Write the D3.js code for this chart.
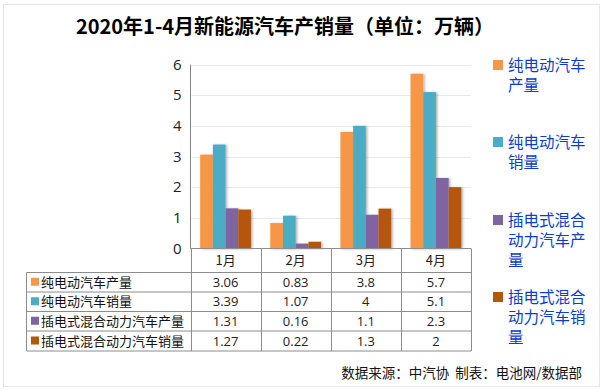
<!DOCTYPE html>
<html><head><meta charset="utf-8">
<script src="https://cdn.jsdelivr.net/npm/d3@7"></script>
<style>
html,body{margin:0;padding:0;background:#fff;}
svg{display:block;font-family:"Noto Sans CJK SC","Noto Sans",sans-serif;}
</style></head>
<body>
<svg id="c" width="605" height="390"></svg>
<script>
const categories = ["1月","2月","3月","4月"];
const seriesNames = ["纯电动汽车产量","纯电动汽车销量","插电式混合动力汽车产量","插电式混合动力汽车销量"];
const bevProd = [3.06,0.83,3.8,5.7];
const bevSales = [3.39,1.07,4,5.1];
const phevProd = [1.31,0.16,1.1,2.3];
const phevSales = [1.27,0.22,1.3,2];
const yTicks = [0,1,2,3,4,5,6];
const colors = ["#F79646","#4BACC6","#8064A2","#B65708"];
const legendLines = [["纯电动汽车","产量"],["纯电动汽车","销量"],["插电式混合","动力汽车产","量"],["插电式混合","动力汽车销","量"]];
const series = [bevProd,bevSales,phevProd,phevSales];

const svg = d3.select("#c");
// frame
svg.append("rect").attr("x",3.5).attr("y",4.5).attr("width",596).attr("height",382)
  .attr("fill","#fff").attr("stroke","#e6e6e6");

const defs = svg.append("defs");
const f = defs.append("filter").attr("id","sh").attr("x","-20%").attr("y","-10%").attr("width","160%").attr("height","130%");
f.append("feDropShadow").attr("dx",1.5).attr("dy",0.5).attr("stdDeviation",0.8).attr("flood-color","#000").attr("flood-opacity",0.3);

// title
svg.append("text").attr("x",285).attr("y",34).attr("text-anchor","middle")
  .attr("font-size",20).attr("font-weight","bold").attr("fill","#000")
  .text("2020年1-4月新能源汽车产销量（单位：万辆）");

const x0 = 190.5, x1 = 471;
const y = d3.scaleLinear().domain([0,6]).range([248.5,64.5]);
const x = d3.scaleBand().domain(categories).range([x0,x1]).padding(0);
const xs = d3.scaleBand().domain(d3.range(4)).range([0,x.bandwidth()]).paddingOuter(0.76).paddingInner(0);

// gridlines
svg.append("g").selectAll("line").data(yTicks.filter(d=>d>0)).join("line")
  .attr("x1",x0).attr("x2",x1).attr("y1",d=>Math.round(y(d))+0.5).attr("y2",d=>Math.round(y(d))+0.5)
  .attr("stroke","#e9e9e9");

// y axis
const ya = svg.append("g").attr("transform",`translate(${x0},0)`)
  .call(d3.axisLeft(y).tickValues(yTicks).tickSize(0).tickPadding(9).tickFormat(d3.format("d")));
ya.select(".domain").attr("stroke","#888").attr("d",`M0,${y(6)}V${y(0)}`);
ya.selectAll("text").attr("font-size",15).attr("fill","#222").attr("font-family","'Open Sans','Noto Sans',sans-serif");

// bars
const g = svg.append("g");
series.forEach((vals,si)=>{
  g.append("g").selectAll("rect").data(vals).join("rect")
    .attr("x",(d,i)=>x(categories[i])+xs(si))
    .attr("width",xs.bandwidth())
    .attr("y",d=>y(d)).attr("height",d=>y(0)-y(d))
    .attr("fill",colors[si]).attr("filter","url(#sh)");
});

// table
const tl = 26.5, rowTop = [248.5,272.5,292,311.5,331,351];
const tg = svg.append("g").attr("stroke","#8c8c8c").attr("fill","none");
tg.append("line").attr("x1",x0).attr("x2",x1).attr("y1",rowTop[0]).attr("y2",rowTop[0]);
rowTop.slice(1).forEach(yy=>{
  tg.append("line").attr("x1",tl).attr("x2",x1).attr("y1",yy).attr("y2",yy);
});
tg.append("line").attr("x1",tl).attr("x2",tl).attr("y1",rowTop[1]).attr("y2",rowTop[5]);
[...categories.map(c=>x(c)), x1].forEach(xx=>{
  tg.append("line").attr("x1",Math.round(xx)+0.5).attr("x2",Math.round(xx)+0.5).attr("y1",rowTop[0]).attr("y2",rowTop[5]);
});
svg.append("g").selectAll("text").data(categories).join("text")
  .attr("x",d=>x(d)+x.bandwidth()/2).attr("y",265).attr("text-anchor","middle")
  .attr("font-size",13).attr("fill","#222").text(d=>d);
seriesNames.forEach((name,si)=>{
  const yc = (rowTop[si+1]+rowTop[si+2])/2;
  svg.append("rect").attr("x",31).attr("y",yc-4.5).attr("width",8).attr("height",8).attr("fill",colors[si]);
  svg.append("text").attr("x",41).attr("y",yc+4.5).attr("font-size",13).attr("fill","#111").text(name);
  series[si].forEach((v,i)=>{
    svg.append("text").attr("x",x(categories[i])+x.bandwidth()/2).attr("y",yc+4.5)
      .attr("text-anchor","middle").attr("font-size",13).attr("fill","#222")
      .attr("font-family","'Open Sans','Noto Sans',sans-serif").text(v);
  });
});

// legend
const legY = [65,142,220,297];
seriesNames.forEach((name,si)=>{
  svg.append("rect").attr("x",493).attr("y",legY[si]-5).attr("width",10).attr("height",10).attr("fill",colors[si]);
  legendLines[si].forEach((ln,li)=>{
    svg.append("text").attr("x",508).attr("y",legY[si]+5.5+li*20).attr("font-size",15.5)
      .attr("fill","#0a3cd2").text(ln);
  });
});

// footer
svg.append("text").attr("x",582).attr("y",378).attr("text-anchor","end")
  .attr("font-size",13.5).attr("fill","#111").attr("xml:space","preserve").text("数据来源：中汽协  制表：电池网/数据部");
</script>
</body></html>
